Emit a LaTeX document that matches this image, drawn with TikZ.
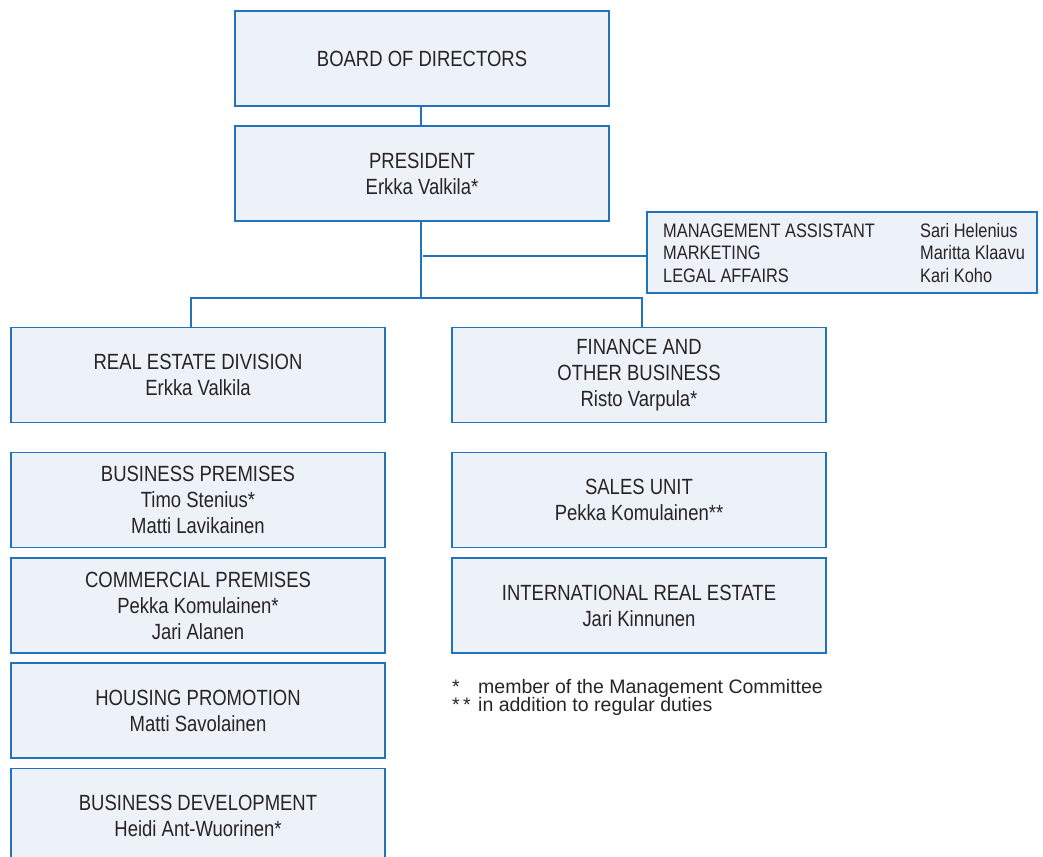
\documentclass[tikz,border=0pt]{standalone}
\usepackage{fontspec}
\setmainfont{Liberation Sans}[FakeStretch=0.84]
\newfontfamily\footfont{Liberation Sans}[FakeStretch=1.0]
\definecolor{bordc}{HTML}{2273BB}
\definecolor{boxfill}{HTML}{EDF2F9}
\definecolor{txt}{HTML}{262425}
\tikzset{
  orgbox/.style={draw=bordc, fill=boxfill, line width=1.6pt, inner sep=0pt,
    text=txt, align=center, minimum width=374pt, minimum height=95pt,
    font=\fontsize{22}{26}\selectfont},
  conn/.style={draw=bordc, line width=1.6pt},
  mgtxt/.style={anchor=base west, inner sep=0pt, text=txt, font=\fontsize{19.5}{22}\selectfont},
  fntxt/.style={anchor=base west, inner sep=0pt, text=txt, font=\footfont\fontsize{19.5}{18}\selectfont}
}
\begin{document}
\begin{tikzpicture}[x=1pt,y=-1pt]
\useasboundingbox (0,0) rectangle (1043,856);
% top
\node[orgbox] (board) at (422,58.5) {BOARD OF DIRECTORS};
\node[orgbox] (pres) at (422,173.5) {PRESIDENT\\Erkka Valkila*};
% management staff
\node[orgbox, minimum width=390pt, minimum height=81pt] (mgmt) at (842,252.5) {};
\node[mgtxt] (m1) at (663,237) {MANAGEMENT ASSISTANT};
\node[mgtxt] (m2) at (663,259) {MARKETING};
\node[mgtxt] (m3) at (663,282) {LEGAL AFFAIRS};
\node[mgtxt] (n1) at (920,237) {Sari Helenius};
\node[mgtxt] (n2) at (920,259) {Maritta Klaavu};
\node[mgtxt] (n3) at (920,282) {Kari Koho};
% divisions
\node[orgbox] (red) at (198,375) {REAL ESTATE DIVISION\\Erkka Valkila};
\node[orgbox] (fin) at (639,375) {FINANCE AND\\OTHER BUSINESS\\Risto Varpula*};
% units left
\node[orgbox] (bp) at (198,500) {BUSINESS PREMISES\\Timo Stenius*\\Matti Lavikainen};
\node[orgbox] (cp) at (198,605.5) {COMMERCIAL PREMISES\\Pekka Komulainen*\\Jari Alanen};
\node[orgbox] (hp) at (198,710.5) {HOUSING PROMOTION\\Matti Savolainen};
\node[orgbox] (bd) at (198,816) {BUSINESS DEVELOPMENT\\Heidi Ant-Wuorinen*};
% units right
\node[orgbox] (su) at (639,500) {SALES UNIT\\Pekka Komulainen**};
\node[orgbox] (ire) at (639,605.5) {INTERNATIONAL REAL ESTATE\\Jari Kinnunen};
% connectors
\coordinate (jt) at (421,298);
\coordinate (js) at (423,256);
\coordinate (jl) at (191,298);
\coordinate (jr) at (642,298);
\draw[conn] (board.south -| jt) -- (pres.north -| jt);
\draw[conn] (pres.south -| jt) -- (jt);
\draw[conn] (js) -- (mgmt.west |- js);
\draw[conn] (red.north -| jl) -- (jl) -- (jr) -- (fin.north -| jr);
% footnotes
\node[fntxt] (s1) at (452,693) {*};
\node[fntxt] (f1) at (478,693) {member of the Management Committee};
\node[fntxt] (s2) at (452,711) {*\,*};
\node[fntxt] (f2) at (478,711) {in addition to regular duties};
\end{tikzpicture}
\end{document}
